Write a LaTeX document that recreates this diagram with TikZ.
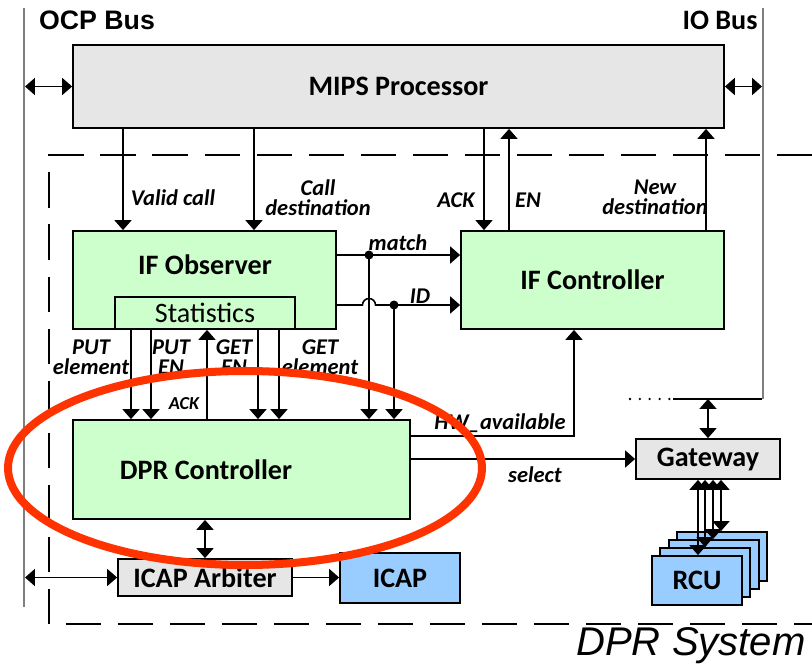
\documentclass[tikz,border=0pt]{standalone}
\usepackage{fontspec}
\setmainfont{Carlito}
\newfontfamily\arialfont{Liberation Sans}
\usetikzlibrary{arrows.meta}
\definecolor{blockgreen}{HTML}{CCFFCC}
\definecolor{blockgray}{HTML}{E6E6E6}
\definecolor{blockblue}{HTML}{99CCFF}
\definecolor{ringred}{HTML}{FF3300}
\definecolor{busgray}{HTML}{7F7F7F}

\begin{document}
\begin{tikzpicture}[x=0.025cm, y=-0.025cm]
\tikzstyle{block} = [rectangle, draw = black, line width = 1.3pt, inner sep = 0pt, font = \fontsize{20}{22}\selectfont\bfseries]
\tikzstyle{grayblock} = [block, fill = blockgray]
\tikzstyle{greenblock} = [block, fill = blockgreen]
\tikzstyle{blueblock} = [block, fill = blockblue]
\tikzstyle{title} = [inner sep = 0pt, font = \fontsize{20}{22}\selectfont\bfseries]
\tikzstyle{signal} = [inner sep = 0pt, align = center, font = \fontsize{16}{14}\selectfont\bfseries\itshape]
\tikzstyle{edge} = [-{Triangle[length = 7pt, width = 12pt]}, line width = 1.1pt]
\tikzstyle{biedge} = [{Triangle[length = 7pt, width = 12pt]}-{Triangle[length = 7pt, width = 12pt]}, line width = 1.1pt]
\tikzstyle{bus} = [draw = busgray, line width = 0.8pt]
\useasboundingbox (0, 0) rectangle (812, 671);

% buses
\draw[bus] (24, 8) -- (24, 607);
\draw[bus] (763, 8) -- (763, 399);
\node[inner sep = 0pt, font = \arialfont\fontsize{19}{21}\selectfont\bfseries] (ocplabel) at (97, 20) {OCP Bus};
\node[title] (iolabel) at (720, 20) {IO Bus};
\coordinate (ocpbus) at (25, 0);
\coordinate (iobus) at (762, 0);
\coordinate (iotap) at (673, 399);
\coordinate (iodots) at (630, 399);

% DPR system frame
\draw[dash pattern = on 25pt off 12pt, line width = 1.3pt] (812, 155) -- (49, 155) -- (49, 624) -- (812, 624);
\node[inner sep = 0pt, font = \arialfont\fontsize{28.5}{30}\selectfont\itshape] (dprsys) at (691, 646) {DPR System};

% blocks
\node[grayblock, minimum width = 651*0.025cm, minimum height = 83*0.025cm] (mips) at (398.5, 86.5) {MIPS Processor};
\node[greenblock, minimum width = 263*0.025cm, minimum height = 98*0.025cm] (ifo) at (204.5, 280) {};
\node[title] (ifotext) at (205, 265) {IF Observer};
\node[greenblock, font = \fontsize{20}{22}\selectfont, minimum width = 180*0.025cm, minimum height = 32*0.025cm] (stat) at (205, 313) {Statistics};
\node[greenblock, minimum width = 263*0.025cm, minimum height = 98*0.025cm] (ifc) at (592.5, 280) {IF Controller};
\node[greenblock, minimum width = 337*0.025cm, minimum height = 99*0.025cm] (dpr) at (241.5, 469.5) {};
\node[title] (dprtext) at (206, 470) {DPR Controller};
\node[grayblock, minimum width = 144*0.025cm, minimum height = 40*0.025cm] (gw) at (708, 459) {Gateway};
\node[grayblock, minimum width = 174*0.025cm, minimum height = 37*0.025cm] (arb) at (205, 577.5) {ICAP Arbiter};
\node[blueblock, minimum width = 120*0.025cm, minimum height = 50*0.025cm] (icap) at (400, 578) {ICAP};
\foreach \n in {3, 2, 1}
  \node[blueblock, minimum width = 90*0.025cm, minimum height = 49*0.025cm] (rcu\n) at (697+8.33*\n, 580.5-8*\n) {};
\node[blueblock, minimum width = 90*0.025cm, minimum height = 49*0.025cm] (rcu0) at (697, 580.5) {RCU};

% processor <-> interface
\foreach \x in {123, 254} {
  \coordinate (lane) at (\x, 0);
  \draw[edge] (lane |- mips.south) -- (lane |- ifo.north);
}
\coordinate (ack) at (484, 0);
\coordinate (en) at (509, 0);
\coordinate (newdest) at (706, 0);
\draw[edge] (ack |- mips.south) -- (ack |- ifc.north);
\draw[edge] (en |- ifc.north) -- (en |- mips.south);
\draw[edge] (newdest |- ifc.north) -- (newdest |- mips.south);
\draw[biedge] (ocpbus |- mips.west) -- (mips.west);
\draw[biedge] (mips.east) -- (iobus |- mips.east);

% observer -> controller
\coordinate (mrow) at (0, 255);
\coordinate (hop) at (362.5, 305);
\coordinate (mdot) at (369, 255);
\coordinate (iddot) at (394, 305);
\draw[edge] (ifo.east |- mrow) -- (ifc.west |- mrow);
\draw[edge] (ifo.east |- hop) -- (hop) arc[start angle = 180, end angle = 360, radius = 6.5] -- (ifc.west |- hop);
\draw[edge] (mdot) -- (mdot |- dpr.north);
\draw[edge] (iddot) -- (iddot |- dpr.north);
\fill (mdot) circle[radius = 4.5];
\fill (iddot) circle[radius = 4.5];

% statistics <-> DPR controller
\foreach \x in {131, 151, 258, 279} {
  \coordinate (lane) at (\x, 0);
  \draw[edge] (lane |- stat.south) -- (lane |- dpr.north);
}
\coordinate (statack) at (207, 0);
\draw[edge] (statack |- dpr.north) -- (statack |- stat.south);

% DPR controller outputs
\coordinate (hwrow) at (574, 436);
\draw[edge] (dpr.east |- hwrow) -| (ifc.south -| hwrow);
\draw[edge] (dpr.east |- gw.west) -- (gw.west);
\draw[biedge] (arb.north |- dpr.south) -- (arb.north);
\draw[edge] (arb.east) -- (icap.west |- arb.east);
\draw[biedge] (ocpbus |- arb.west) -- (arb.west);

% gateway
\draw[line width = 1.8pt] (iotap) -- (iobus |- iotap);
\draw[line width = 1.8pt, line cap = round, dash pattern = on 0pt off 7pt] (iodots) -- (iotap);
\draw[biedge] (gw.north |- iotap) -- (gw.north);
\foreach \n/\x in {0/698, 1/705, 2/713, 3/721} {
  \coordinate (lane) at (\x, 0);
  \draw[biedge] (lane |- gw.south) -- (lane |- rcu\n.north);
}

% labels
\node[signal] (lvalid) at (173, 198) {Valid call};
\node[signal] (lcalldest) at (318, 198) {Call\\destination};
\node[signal] (lack) at (456, 200) {ACK};
\node[signal] (len) at (528, 200) {EN};
\node[signal] (lnewdest) at (655, 197) {New\\destination};
\node[signal] (lmatch) at (398, 243) {match};
\node[signal] (lid) at (420, 296) {ID};
\node[signal] (lputel) at (91, 357) {PUT\\element};
\node[signal] (lputen) at (171, 357) {PUT\\EN};
\node[signal] (lgeten) at (234, 357) {GET\\EN};
\node[signal] (lgetel) at (320, 357) {GET\\element};
\node[signal, font = \fontsize{13}{14}\selectfont\bfseries\itshape] (lstatack) at (184, 404) {ACK};
\node[signal] (lhw) at (500, 423) {HW\_available};
\node[signal] (lselect) at (535, 475) {select};

% highlight
\draw[ringred, line width = 5.7pt] (245, 468) ellipse[x radius = 237, y radius = 97];
\end{tikzpicture}
\end{document}
